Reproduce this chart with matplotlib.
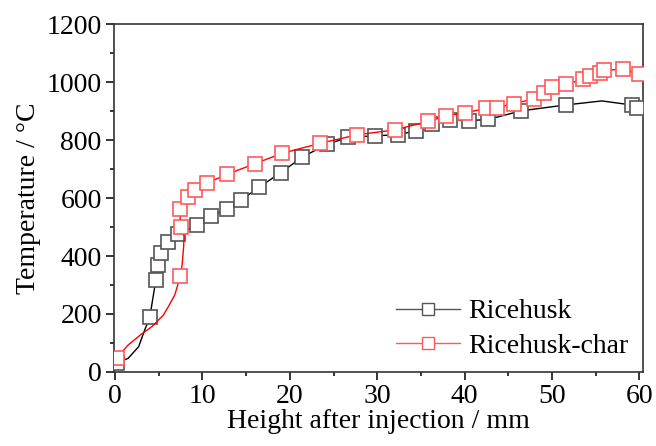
import matplotlib
matplotlib.use("Agg")
import matplotlib.pyplot as plt
from matplotlib.ticker import MultipleLocator

# ---- data ----
# marker points
husk_x = [0.2, 3.98, 4.67, 4.94, 5.3, 6.05, 7.2, 9.4, 11.0, 12.8, 14.4, 16.5, 19.0,
          21.4, 24.3, 26.7, 29.8, 32.4, 34.4, 36.3, 38.3, 40.5, 42.7, 46.5, 51.6,
          59.1, 59.7]
husk_y = [32, 189, 317, 369, 409, 448, 477, 507, 538, 562, 592, 638, 688,
          741, 786, 809, 815, 818, 832, 857, 870, 867, 871, 901, 921,
          921, 909]
char_x = [0.2, 7.49, 7.5, 7.4, 8.37, 9.2, 10.5, 12.85, 15.97, 19.1, 23.5, 27.7,
          32.0, 35.8, 37.9, 40.0, 42.5, 43.7, 45.6, 47.9, 49.1, 49.96, 51.6,
          53.5, 54.4, 55.5, 56.0, 58.1, 59.9]
char_y = [48, 332, 501, 562, 604, 628, 651, 682, 718, 754, 789, 818,
          835, 864, 883, 894, 909, 911, 926, 941, 964, 984, 992,
          1009, 1021, 1030, 1041, 1044, 1028]

# smoothed curve traces (as seen in the picture)
husk_line_x = [0.2, 1.5, 2.7, 3.4, 3.98, 4.67, 4.94, 5.3, 6.05, 7.2, 9.4, 11.0, 12.8,
               14.4, 16.5, 19.0, 21.4, 24.3, 26.7, 29.8, 32.4, 34.4, 36.3, 38.3,
               40.5, 42.7, 46.5, 51.6, 55.7, 59.1, 59.7]
husk_line_y = [32, 47, 87, 145, 189, 317, 369, 409, 448, 477, 507, 538, 562,
               592, 638, 688, 741, 786, 809, 815, 818, 832, 857, 870,
               867, 871, 901, 921, 935, 921, 909]
char_line_x = [0.2, 1.5, 3.0, 4.2, 5.5, 6.1, 6.84, 7.49, 7.7, 7.85, 7.9, 7.5, 7.4,
               8.37, 9.2, 10.5, 12.85, 15.97, 19.1, 23.5, 27.7, 32.0, 35.8, 37.9,
               40.0, 42.5, 43.7, 45.6, 47.9, 49.1, 49.96, 51.6, 53.5, 54.4, 55.5,
               56.0, 58.1, 59.9]
char_line_y = [48, 93, 130, 156, 195, 225, 266, 332, 376, 432, 467, 501, 562,
               604, 628, 651, 682, 718, 754, 789, 818, 835, 864, 883,
               894, 909, 911, 926, 941, 964, 984, 992, 1009, 1021, 1030,
               1041, 1044, 1028]

plt.rcParams["font.family"] = ["Liberation Serif", "DejaVu Serif"]

fig = plt.figure(figsize=(6.56, 4.46), dpi=100)
ax = fig.add_axes([0.174, 0.166, 0.806, 0.780])

ax.plot(husk_line_x, husk_line_y, color="black", lw=1.0, zorder=2)
ax.plot(husk_x, husk_y, ls="none", marker="s", ms=10, mfc="white",
        mec="#555555", mew=1.2, zorder=3)
ax.plot(char_line_x, char_line_y, color="red", lw=1.0, zorder=4)
ax.plot(char_x, char_y, ls="none", marker="s", ms=10, mfc="white",
        mec="#ff5a5a", mew=1.2, zorder=5)

# legend handles
h1, = ax.plot([], [], color="#555555", lw=1.0, marker="s", ms=8, mfc="white",
              mec="#555555", mew=1.0, label="Ricehusk")
h2, = ax.plot([], [], color="#ff5a5a", lw=1.0, marker="s", ms=8, mfc="white",
              mec="#ff5a5a", mew=1.0, label="Ricehusk-char")
ax.legend(handles=[h1, h2], loc="lower right", frameon=False, fontsize=20,
          handlelength=2.3, handletextpad=0.3, labelspacing=0.32,
          bbox_to_anchor=(1.02, -0.034))

ax.set_xlim(-0.1, 60.4)
ax.set_ylim(0, 1200)
ax.xaxis.set_major_locator(MultipleLocator(10))
ax.xaxis.set_minor_locator(MultipleLocator(5))
ax.yaxis.set_major_locator(MultipleLocator(200))
ax.yaxis.set_minor_locator(MultipleLocator(100))
ax.tick_params(which="major", direction="out", length=6, width=1.1, labelsize=20,
               pad=3, top=False, right=False)
ax.tick_params(which="minor", direction="out", length=3, width=1.1,
               top=False, right=False)
for s in ax.spines.values():
    s.set_linewidth(1.2)
    s.set_color("#333333")

ax.set_xlabel("Height after injection / mm", fontsize=20, labelpad=0)
ax.set_ylabel("Temperature / \u00b0C", fontsize=20, labelpad=4)

fig.savefig("out.png", dpi=100)
